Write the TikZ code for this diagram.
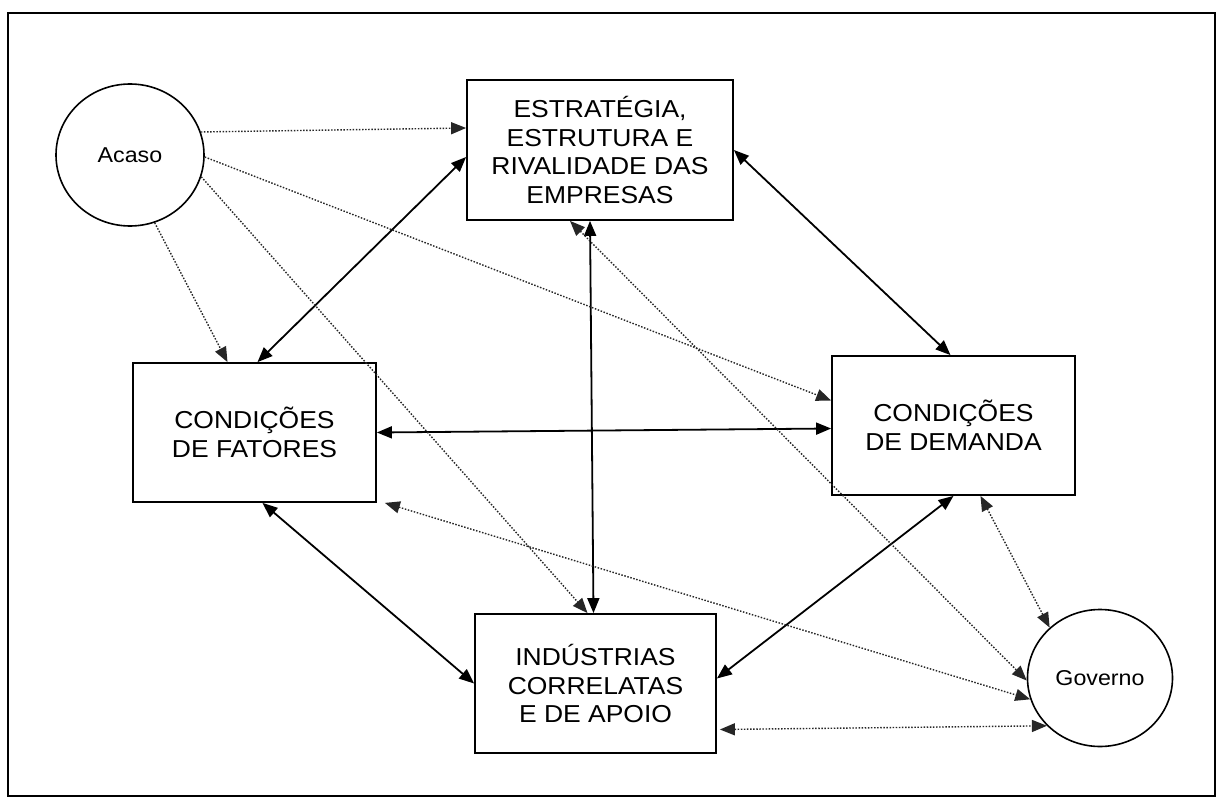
\documentclass[tikz,border=0pt]{standalone}
\usepackage{fontspec}
\setmainfont{Liberation Sans}[FakeStretch=1.08]
\usetikzlibrary{arrows.meta,calc,shapes.geometric}
\begin{document}
\begin{tikzpicture}[x=1pt,y=-1pt,
  boxnode/.style={draw,line width=1.8pt,align=center,inner sep=0pt,
    font=\fontsize{24.5}{28.8}\selectfont},
  ovalnode/.style={draw,ellipse,line width=1.6pt,inner sep=0pt,
    font=\fontsize{21.5}{26}\selectfont},
  tip/.style={{Triangle[length=15pt,width=12pt]}-{Triangle[length=15pt,width=12pt]}},
  onetip/.style={-{Triangle[length=15pt,width=12pt]}},
  solidcon/.style={line width=1.8pt},
  dotcon/.style={line width=1.4pt,dash pattern=on 1.5pt off 1.6pt,black!85}]
\useasboundingbox (0,0) rectangle (1221,802);
\fill[white] (0,0) rectangle (1221,802);
\draw[line width=2pt] (8,13) rectangle (1215,796);

\node[boxnode,minimum width=266pt,minimum height=140pt] (E) at (600,150)
  {ESTRATÉGIA,\\ESTRUTURA E\\RIVALIDADE DAS\\EMPRESAS};
\node[boxnode,minimum width=243pt,minimum height=139pt] (F) at (254.5,432.5)
  {CONDIÇÕES\\DE FATORES};
\node[boxnode,minimum width=243pt,minimum height=139pt] (D) at (953.5,425.5)
  {CONDIÇÕES\\DE DEMANDA};
\node[boxnode,minimum width=241pt,minimum height=139pt] (I) at (595.5,683.5)
  {INDÚSTRIAS\\CORRELATAS\\E DE APOIO};
\node[ovalnode,minimum width=148pt,minimum height=142pt] (A) at (130,155) {Acaso};
\node[ovalnode,minimum width=145pt,minimum height=137pt] (G) at (1100,678) {Governo};

% solid double-headed connectors
\draw[solidcon,tip] ($(E.west)+(0,7)$) -- ($(F.north)+(3,0)$);
\draw[solidcon,tip] (E.east) -- ($(D.north)+(-3,0)$);
\draw[solidcon,tip] ($(E.south)+(-10,0)$) -- ($(I.north)+(-2,0)$);
\draw[solidcon,tip] (F.east) -- ($(D.west)+(0,3)$);
\draw[solidcon,tip] ($(F.south)+(8,0)$) -- (I.west);
\draw[solidcon,tip] (D.south) -- ($(I.east)+(0,-5)$);

% dotted connectors from Acaso
\draw[dotcon,onetip] (A.18) -- ($(E.west)+(0,-22)$);
\draw[dotcon,onetip] ($(A.east)+(0,2)$) -- ($(D.west)+(0,-25)$);
\draw[dotcon,onetip] (A.-17) -- ($(I.north)+(-8,0)$);
\draw[dotcon,onetip] (A.-70) -- ($(F.north)+(-27,0)$);

% dotted connectors with Governo
\draw[dotcon,tip] ($(E.south)+(-30,0)$) -- (G.182);
\draw[dotcon,tip] ($(F.south east)+(8,0)$) -- (G.197);
\draw[dotcon,tip] ($(D.south)+(27,0)$) -- (G.135);
\draw[dotcon,tip] ($(I.east)+(3,46)$) -- (G.222);
\end{tikzpicture}
\end{document}
